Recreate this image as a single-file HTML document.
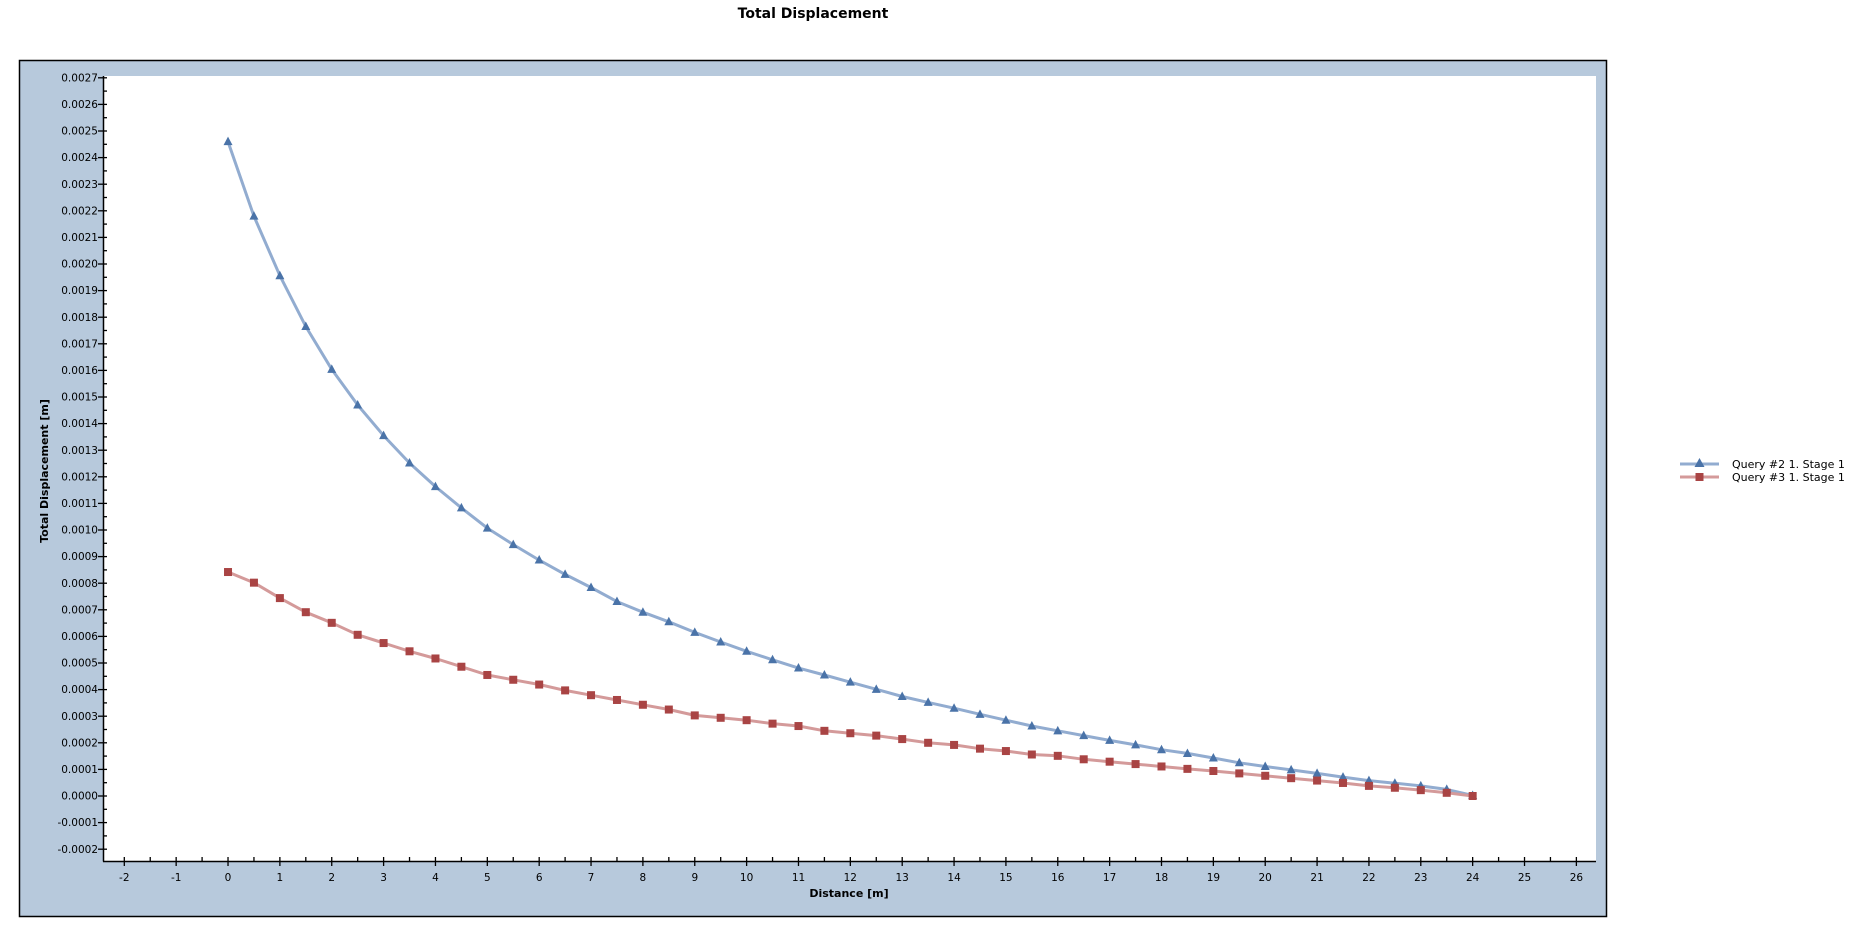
<!DOCTYPE html>
<html><head><meta charset="utf-8"><style>
html,body{margin:0;padding:0;background:#fff;width:1859px;height:951px;overflow:hidden}
svg{display:block;font-family:"DejaVu Sans","Liberation Sans",sans-serif}
</style></head><body>
<svg id="s" width="1859" height="951" viewBox="0 0 1859 951" xmlns="http://www.w3.org/2000/svg">
<text x="813" y="18" text-anchor="middle" font-size="14" font-weight="bold" fill="#000">Total Displacement</text>
<rect x="19.5" y="60.5" width="1587" height="856" fill="#b7c9dc" stroke="#000" stroke-width="1.5"/>
<rect x="103" y="76" width="1493" height="785" fill="#fff"/>
<g id="ticks" stroke="#000" stroke-width="1.3"></g>
<line x1="103.5" y1="76" x2="103.5" y2="861.5" stroke="#000" stroke-width="1.5"/>
<line x1="103" y1="861.5" x2="1596" y2="861.5" stroke="#000" stroke-width="1.5"/>
<g font-size="10.5" fill="#000" text-anchor="end">
<text x="98" y="81.5">0.0027</text><text x="98" y="108">0.0026</text><text x="98" y="134.5">0.0025</text><text x="98" y="161">0.0024</text><text x="98" y="188">0.0023</text><text x="98" y="214.5">0.0022</text><text x="98" y="241">0.0021</text><text x="98" y="267.5">0.0020</text><text x="98" y="294">0.0019</text><text x="98" y="321">0.0018</text><text x="98" y="347.5">0.0017</text><text x="98" y="374">0.0016</text><text x="98" y="400.5">0.0015</text><text x="98" y="427">0.0014</text><text x="98" y="454">0.0013</text><text x="98" y="480.5">0.0012</text><text x="98" y="507">0.0011</text><text x="98" y="533.5">0.0010</text><text x="98" y="560">0.0009</text><text x="98" y="587">0.0008</text><text x="98" y="613.5">0.0007</text><text x="98" y="640">0.0006</text><text x="98" y="666.5">0.0005</text><text x="98" y="693">0.0004</text><text x="98" y="720">0.0003</text><text x="98" y="746.5">0.0002</text><text x="98" y="773">0.0001</text><text x="98" y="799.5">0.0000</text><text x="98" y="826">-0.0001</text><text x="98" y="853">-0.0002</text>
</g>
<g font-size="10.5" fill="#000" text-anchor="middle">
<text x="124.3" y="881">-2</text><text x="176.2" y="881">-1</text><text x="228" y="881">0</text><text x="279.9" y="881">1</text><text x="331.7" y="881">2</text><text x="383.6" y="881">3</text><text x="435.5" y="881">4</text><text x="487.3" y="881">5</text><text x="539.2" y="881">6</text><text x="591" y="881">7</text><text x="642.9" y="881">8</text><text x="694.8" y="881">9</text><text x="746.6" y="881">10</text><text x="798.5" y="881">11</text><text x="850.3" y="881">12</text><text x="902.2" y="881">13</text><text x="954.1" y="881">14</text><text x="1005.9" y="881">15</text><text x="1057.8" y="881">16</text><text x="1109.6" y="881">17</text><text x="1161.5" y="881">18</text><text x="1213.4" y="881">19</text><text x="1265.2" y="881">20</text><text x="1317.1" y="881">21</text><text x="1368.9" y="881">22</text><text x="1420.8" y="881">23</text><text x="1472.7" y="881">24</text><text x="1524.5" y="881">25</text><text x="1576.4" y="881">26</text>
</g>
<text x="849" y="897" text-anchor="middle" font-size="11" font-weight="bold">Distance [m]</text>
<text transform="translate(48,471) rotate(-90)" text-anchor="middle" font-size="11" font-weight="bold">Total Displacement [m]</text>
<g id="series"></g>
<line x1="1680" y1="464" x2="1719" y2="464" stroke="#92acd0" stroke-width="3"/>
<polygon points="1699.5,458 1704.5,467 1694.5,467" fill="#4a73a8"/>
<line x1="1680" y1="477" x2="1719" y2="477" stroke="#d49a9a" stroke-width="3"/>
<rect x="1695.5" y="473" width="8" height="8" fill="#a94444"/>
<text x="1732" y="468" font-size="11">Query #2 1. Stage 1</text>
<text x="1732" y="481" font-size="11">Query #3 1. Stage 1</text>
</svg>
<script>
function X(v){return 124.3+(v+2)*51.86;}
function Y(k){return 796-26.6*k;}
var t=document.getElementById('ticks'),s="";
for(var k=-2.5;k<=27.01;k+=0.5){var y=Y(k);if(y>860)continue;var big=Math.abs(k-Math.round(k))<0.01;s+='<line x1="'+(big?98:103)+'" y1="'+y+'" x2="107" y2="'+y+'"/>';}
for(var v=-2;v<=26.01;v+=0.5){var x=X(v),big=Math.abs(v-Math.round(v))<0.01;s+='<line x1="'+x+'" y1="857" x2="'+x+'" y2="'+(big?866:862)+'"/>';}
t.innerHTML=s;
var blue=[24.6,21.8,19.56,17.65,16.04,14.7,13.55,12.52,11.63,10.83,10.07,9.45,8.87,8.33,7.84,7.31,6.91,6.55,6.15,5.79,5.44,5.12,4.81,4.55,4.28,4.01,3.74,3.52,3.30,3.07,2.85,2.63,2.45,2.27,2.09,1.92,1.74,1.60,1.43,1.25,1.11,0.98,0.85,0.71,0.58,0.48,0.38,0.25,0.02];
var red=[8.42,8.02,7.44,6.91,6.51,6.06,5.75,5.44,5.17,4.86,4.55,4.37,4.19,3.97,3.79,3.61,3.43,3.25,3.03,2.94,2.85,2.72,2.63,2.45,2.36,2.27,2.14,2.0,1.92,1.78,1.69,1.56,1.51,1.38,1.29,1.20,1.11,1.02,0.94,0.85,0.76,0.67,0.58,0.49,0.38,0.31,0.22,0.12,0];
var g="";
function pl(d,c){var p=d.map(function(k,i){return X(i*0.5).toFixed(1)+','+Y(k).toFixed(1)}).join(' ');return '<polyline points="'+p+'" fill="none" stroke="'+c+'" stroke-width="3" stroke-linejoin="round"/>';}
g+=pl(blue,'#92acd0');g+=pl(red,'#d49a9a');
blue.forEach(function(k,i){var x=X(i*0.5),y=Y(k);g+='<polygon points="'+x+','+(y-5)+' '+(x+4.5)+','+(y+3.5)+' '+(x-4.5)+','+(y+3.5)+'" fill="#4a73a8"/>';});
red.forEach(function(k,i){var x=X(i*0.5),y=Y(k);g+='<rect x="'+(x-4)+'" y="'+(y-4)+'" width="8" height="8" fill="#a94444"/>';});
document.getElementById('series').innerHTML=g;
</script>
</body></html>
